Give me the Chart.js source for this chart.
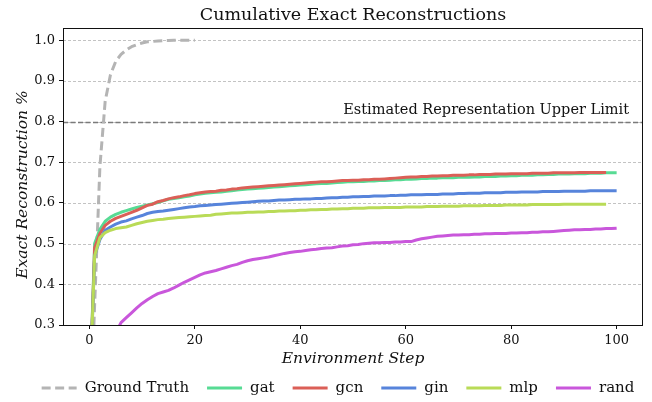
<!DOCTYPE html>
<html>
<head>
<meta charset="utf-8">
<script src="https://cdn.jsdelivr.net/npm/chart.js@4/dist/chart.umd.min.js"></script>
<style>
  html, body { margin: 0; padding: 0; background: #ffffff; }
  canvas { display: block; }
</style>
</head>
<body>
<canvas id="chart" width="652" height="402"></canvas>
<script>
// Axis ticks
const X_TICKS = [0, 20, 40, 60, 80, 100];
const Y_TICKS = [0.3, 0.4, 0.5, 0.6, 0.7, 0.8, 0.9, 1.0];
const UPPER_LIMIT = 0.8;
const UPPER_LIMIT_LABEL = 'Estimated Representation Upper Limit';

// Series names (legend order)
const SERIES_NAMES = ['Ground Truth', 'gat', 'gcn', 'gin', 'mlp', 'rand'];

// Cumulative fraction of exact reconstructions per environment step
const GROUND_TRUTH = [0.00, 0.35, 0.69, 0.85, 0.915, 0.948, 0.965, 0.976, 0.984, 0.989, 0.993,
  0.996, 0.997, 0.998, 0.999, 0.999, 1.000, 1.000, 1.000, 1.000, 1.000];

const GAT = [0.10, 0.50, 0.535, 0.555, 0.565, 0.572, 0.577, 0.581, 0.585, 0.589, 0.592,
  0.595, 0.598, 0.601, 0.605, 0.609, 0.611, 0.613, 0.615, 0.617, 0.620,
  0.622, 0.624, 0.625, 0.626, 0.627, 0.629, 0.630, 0.632, 0.633, 0.634,
  0.635, 0.636, 0.637, 0.638, 0.639, 0.640, 0.641, 0.642, 0.643, 0.644,
  0.645, 0.646, 0.647, 0.648, 0.648, 0.649, 0.650, 0.651, 0.652, 0.652,
  0.653, 0.653, 0.654, 0.654, 0.655, 0.655, 0.656, 0.657, 0.657, 0.658,
  0.658, 0.659, 0.660, 0.660, 0.661, 0.661, 0.662, 0.662, 0.662, 0.663,
  0.663, 0.663, 0.664, 0.664, 0.665, 0.665, 0.665, 0.666, 0.666, 0.667,
  0.667, 0.668, 0.668, 0.668, 0.669, 0.669, 0.670, 0.670, 0.671, 0.671,
  0.671, 0.672, 0.672, 0.672, 0.673, 0.673, 0.673, 0.674, 0.674, 0.674];

const GCN = [0.10, 0.49, 0.525, 0.545, 0.555, 0.562, 0.567, 0.572, 0.577, 0.582, 0.588,
  0.594, 0.597, 0.603, 0.606, 0.610, 0.613, 0.615, 0.618, 0.620, 0.623,
  0.625, 0.627, 0.628, 0.629, 0.631, 0.632, 0.634, 0.635, 0.637, 0.638,
  0.639, 0.640, 0.641, 0.642, 0.643, 0.644, 0.645, 0.646, 0.647, 0.648,
  0.649, 0.650, 0.651, 0.652, 0.652, 0.653, 0.654, 0.655, 0.655, 0.656,
  0.656, 0.657, 0.657, 0.658, 0.658, 0.659, 0.660, 0.661, 0.662, 0.663,
  0.664, 0.664, 0.665, 0.665, 0.666, 0.666, 0.667, 0.667, 0.668, 0.668,
  0.668, 0.669, 0.669, 0.670, 0.670, 0.670, 0.671, 0.671, 0.671, 0.672,
  0.672, 0.672, 0.672, 0.673, 0.673, 0.673, 0.673, 0.674, 0.674, 0.674,
  0.674, 0.674, 0.675, 0.675, 0.675, 0.675, 0.675, 0.675];

const GIN = [0.10, 0.47, 0.51, 0.533, 0.541, 0.548, 0.553, 0.556, 0.561, 0.565, 0.569,
  0.574, 0.577, 0.579, 0.580, 0.582, 0.584, 0.586, 0.588, 0.590, 0.591,
  0.593, 0.594, 0.595, 0.596, 0.597, 0.598, 0.599, 0.600, 0.601, 0.602,
  0.603, 0.604, 0.605, 0.605, 0.606, 0.607, 0.607, 0.608, 0.609, 0.609,
  0.610, 0.610, 0.611, 0.611, 0.612, 0.613, 0.613, 0.614, 0.614, 0.615,
  0.615, 0.616, 0.616, 0.617, 0.617, 0.617, 0.618, 0.618, 0.619, 0.619,
  0.620, 0.620, 0.620, 0.621, 0.621, 0.621, 0.622, 0.622, 0.622, 0.623,
  0.623, 0.624, 0.624, 0.624, 0.625, 0.625, 0.625, 0.625, 0.626, 0.626,
  0.626, 0.627, 0.627, 0.627, 0.627, 0.628, 0.628, 0.628, 0.628, 0.629,
  0.629, 0.629, 0.629, 0.629, 0.630, 0.630, 0.630, 0.630, 0.630, 0.630];

const MLP = [0.10, 0.47, 0.515, 0.527, 0.533, 0.537, 0.539, 0.541, 0.545, 0.549, 0.552,
  0.555, 0.557, 0.559, 0.560, 0.562, 0.563, 0.564, 0.565, 0.566, 0.567,
  0.568, 0.569, 0.570, 0.572, 0.573, 0.574, 0.575, 0.575, 0.576, 0.577,
  0.577, 0.578, 0.578, 0.579, 0.579, 0.580, 0.580, 0.581, 0.581, 0.582,
  0.582, 0.583, 0.583, 0.584, 0.584, 0.585, 0.585, 0.586, 0.586, 0.587,
  0.587, 0.587, 0.588, 0.588, 0.588, 0.589, 0.589, 0.589, 0.589, 0.590,
  0.590, 0.590, 0.590, 0.591, 0.591, 0.591, 0.592, 0.592, 0.592, 0.592,
  0.593, 0.593, 0.593, 0.593, 0.594, 0.594, 0.594, 0.594, 0.595, 0.595,
  0.595, 0.595, 0.595, 0.596, 0.596, 0.596, 0.596, 0.596, 0.596, 0.597,
  0.597, 0.597, 0.597, 0.597, 0.597, 0.597, 0.597, 0.597];

const RAND = [0.00, 0.12, 0.18, 0.22, 0.25, 0.28, 0.306, 0.318, 0.330, 0.342, 0.353,
  0.362, 0.370, 0.377, 0.381, 0.385, 0.391, 0.398, 0.405, 0.411, 0.417,
  0.423, 0.428, 0.431, 0.434, 0.438, 0.442, 0.446, 0.449, 0.454, 0.458,
  0.461, 0.463, 0.465, 0.467, 0.470, 0.473, 0.476, 0.478, 0.480, 0.481,
  0.483, 0.485, 0.486, 0.488, 0.489, 0.490, 0.492, 0.494, 0.495, 0.497,
  0.498, 0.500, 0.501, 0.502, 0.502, 0.503, 0.503, 0.504, 0.504, 0.505,
  0.505, 0.509, 0.512, 0.514, 0.516, 0.518, 0.519, 0.520, 0.521, 0.521,
  0.522, 0.522, 0.523, 0.523, 0.524, 0.524, 0.525, 0.525, 0.525, 0.526,
  0.526, 0.527, 0.527, 0.528, 0.528, 0.529, 0.529, 0.530, 0.531, 0.532,
  0.533, 0.534, 0.534, 0.535, 0.535, 0.536, 0.536, 0.537, 0.537, 0.538];

const SERIF = '"DejaVu Serif", "Liberation Serif", serif';

const toPoints = (values) => values.map((v, i) => ({ x: i, y: v }));

const seriesStyles = [
  { values: GROUND_TRUTH, color: '#b4b4b4', dash: [9, 4.5] },
  { values: GAT,  color: '#57db94', dash: [] },
  { values: GCN,  color: '#db5f57', dash: [] },
  { values: GIN,  color: '#5784db', dash: [] },
  { values: MLP,  color: '#b9db57', dash: [] },
  { values: RAND, color: '#c957db', dash: [] }
];

const datasets = seriesStyles.map((s, i) => ({
  label: SERIES_NAMES[i],
  data: toPoints(s.values),
  borderColor: s.color,
  backgroundColor: s.color,
  borderWidth: 3,
  borderDash: s.dash,
  borderCapStyle: 'butt',
  borderJoinStyle: 'round',
  pointRadius: 0,
  pointHoverRadius: 0,
  tension: 0,
  fill: false,
  clip: 0,
  order: seriesStyles.length - i
}));

// Dashed grid, reference line and its caption, drawn under the series
const backdrop = {
  id: 'backdrop',
  beforeDatasetsDraw(chart) {
    const { ctx, chartArea: a, scales: { y } } = chart;
    ctx.save();
    ctx.lineWidth = 0.9;
    ctx.strokeStyle = '#bcbcbc';
    ctx.setLineDash([3, 2]);
    Y_TICKS.forEach(v => {
      const py = Math.round(y.getPixelForValue(v)) + 0.5;
      ctx.beginPath();
      ctx.moveTo(a.left, py);
      ctx.lineTo(a.right, py);
      ctx.stroke();
    });
    const ly = Math.round(y.getPixelForValue(UPPER_LIMIT)) + 0.5;
    ctx.lineWidth = 1.5;
    ctx.strokeStyle = '#7a7a7a';
    ctx.setLineDash([5, 2.5]);
    ctx.beginPath();
    ctx.moveTo(a.left, ly);
    ctx.lineTo(a.right, ly);
    ctx.stroke();
    ctx.setLineDash([]);
    ctx.fillStyle = '#111';
    ctx.font = '14.5px ' + SERIF;
    ctx.textAlign = 'right';
    ctx.textBaseline = 'alphabetic';
    ctx.fillText(UPPER_LIMIT_LABEL, a.right - 14, ly - 9);
    ctx.restore();
  }
};

// Frame, title, axis titles and legend
const decorations = {
  id: 'decorations',
  afterDatasetsDraw(chart) {
    const { ctx, chartArea: a } = chart;
    ctx.save();
    ctx.strokeStyle = '#111';
    ctx.lineWidth = 1;
    ctx.strokeRect(a.left + 0.5, a.top + 0.5, a.right - a.left - 1, a.bottom - a.top);
    ctx.restore();
  },
  afterDraw(chart) {
    const { ctx, chartArea: a } = chart;
    const cx = (a.left + a.right) / 2;
    const cy = (a.top + a.bottom) / 2;
    ctx.save();
    ctx.fillStyle = '#111';
    ctx.textBaseline = 'alphabetic';

    ctx.font = '17.5px ' + SERIF;
    ctx.textAlign = 'center';
    ctx.fillText('Cumulative Exact Reconstructions', cx, 20);

    ctx.font = 'italic 15.5px ' + SERIF;
    ctx.fillText('Environment Step', cx, 363);

    ctx.save();
    ctx.translate(27, cy + 8);
    ctx.rotate(-Math.PI / 2);
    ctx.fillText('Exact Reconstruction %', 0, 0);
    ctx.restore();

    // legend row
    ctx.font = '15px ' + SERIF;
    const handle = 35, pad = 8, gap = 18;
    const widths = SERIES_NAMES.map(n => ctx.measureText(n).width);
    const total = widths.reduce((s, w) => s + handle + pad + w, 0) + gap * (SERIES_NAMES.length - 1);
    let x = 338 - total / 2;
    const ly = 388;
    ctx.textAlign = 'left';
    ctx.textBaseline = 'middle';
    SERIES_NAMES.forEach((name, i) => {
      const st = seriesStyles[i];
      ctx.strokeStyle = st.color;
      ctx.lineWidth = 3;
      ctx.lineCap = 'butt';
      ctx.setLineDash(st.dash);
      ctx.beginPath();
      ctx.moveTo(x, ly);
      ctx.lineTo(x + handle, ly);
      ctx.stroke();
      ctx.setLineDash([]);
      ctx.fillStyle = '#111';
      ctx.fillText(name, x + handle + pad, ly);
      x += handle + pad + widths[i] + gap;
    });
    ctx.restore();
  }
};

new Chart(document.getElementById('chart'), {
  type: 'line',
  data: { datasets },
  options: {
    responsive: false,
    animation: false,
    events: [],
    layout: { padding: { top: 28, right: 9, left: 0, bottom: 0 } },
    plugins: {
      legend: { display: false },
      title: { display: false },
      tooltip: { enabled: false }
    },
    scales: {
      x: {
        type: 'linear',
        min: -5,
        max: 105,
        afterFit: s => { s.height = 77; },
        afterBuildTicks: s => { s.ticks = X_TICKS.map(v => ({ value: v })); },
        border: { display: false },
        grid: { display: true, drawOnChartArea: false, drawTicks: true, tickLength: 4, tickColor: '#111', lineWidth: 1 },
        ticks: {
          padding: 4,
          color: '#111',
          font: { family: SERIF, size: 13 },
          maxRotation: 0,
          callback: v => String(v)
        }
      },
      y: {
        type: 'linear',
        min: 0.3,
        max: 1.03,
        afterFit: s => { s.width = 63; },
        afterBuildTicks: s => { s.ticks = Y_TICKS.map(v => ({ value: v })); },
        border: { display: false },
        grid: { display: true, drawOnChartArea: false, drawTicks: true, tickLength: 4, tickColor: '#111', lineWidth: 1 },
        ticks: {
          padding: 4,
          color: '#111',
          font: { family: SERIF, size: 13 },
          callback: v => Number(v).toFixed(1)
        }
      }
    }
  },
  plugins: [backdrop, decorations]
});
</script>
</body>
</html>
